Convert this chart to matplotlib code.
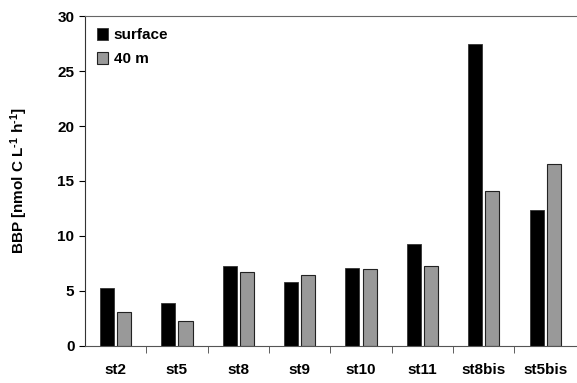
import numpy as np
import matplotlib
matplotlib.use('Agg')
import matplotlib.pyplot as plt

plt.rcParams['font.family'] = 'Liberation Sans'
plt.rcParams['font.weight'] = 'bold'
plt.rcParams['mathtext.fontset'] = 'custom'
plt.rcParams['mathtext.bf'] = 'Liberation Sans:bold'
plt.rcParams['mathtext.rm'] = 'Liberation Sans:bold'
plt.rcParams['mathtext.default'] = 'bf'

stations = ['st2', 'st5', 'st8', 'st9', 'st10', 'st11', 'st8bis', 'st5bis']
surface = [5.25, 3.9, 7.3, 5.8, 7.1, 9.3, 27.5, 12.4]
m40 = [3.1, 2.25, 6.7, 6.4, 7.0, 7.3, 14.1, 16.5]

fig = plt.figure(figsize=(5.77, 3.83), dpi=100)
ax = fig.add_axes([0.147, 0.097, 0.851, 0.861])

x = np.arange(len(stations))
w = 0.23
ax.bar(x - 0.14, surface, w, color='black', edgecolor='#333333', linewidth=0.6, label='surface')
ax.bar(x + 0.14, m40, w, color='#999999', edgecolor='#222222', linewidth=0.8, label='40 m')

ax.set_xlim(-0.5, len(stations) - 0.5)
ax.set_ylim(0, 30)
ax.set_yticks(range(0, 31, 5))
ax.set_xticks(x)
ax.set_xticklabels(stations)
ax.set_xticks(np.arange(0.5, len(stations) - 0.5, 1), minor=True)
ax.tick_params(axis='x', which='major', length=0, pad=12, labelsize=11)
ax.tick_params(axis='x', which='minor', length=5, direction='out', color='#444444')
ax.tick_params(axis='y', length=4, direction='out', labelsize=11)

ax.spines['right'].set_visible(False)
ax.spines['top'].set_color('#666666')
ax.spines['bottom'].set_color('#555555')
ax.spines['left'].set_color('#333333')

ax.set_ylabel('BBP [nmol C L$^{\\text{-1}}$ h$^{\\text{-1}}$]', fontsize=11, fontweight='bold', labelpad=20)

ax.legend(loc='upper left', frameon=False, fontsize=11, handlelength=0.75, handleheight=0.75,
          handletextpad=0.35, labelspacing=0.65, bbox_to_anchor=(0.0, 1.0), borderaxespad=0.4)

fig.savefig('out.png', dpi=100)
